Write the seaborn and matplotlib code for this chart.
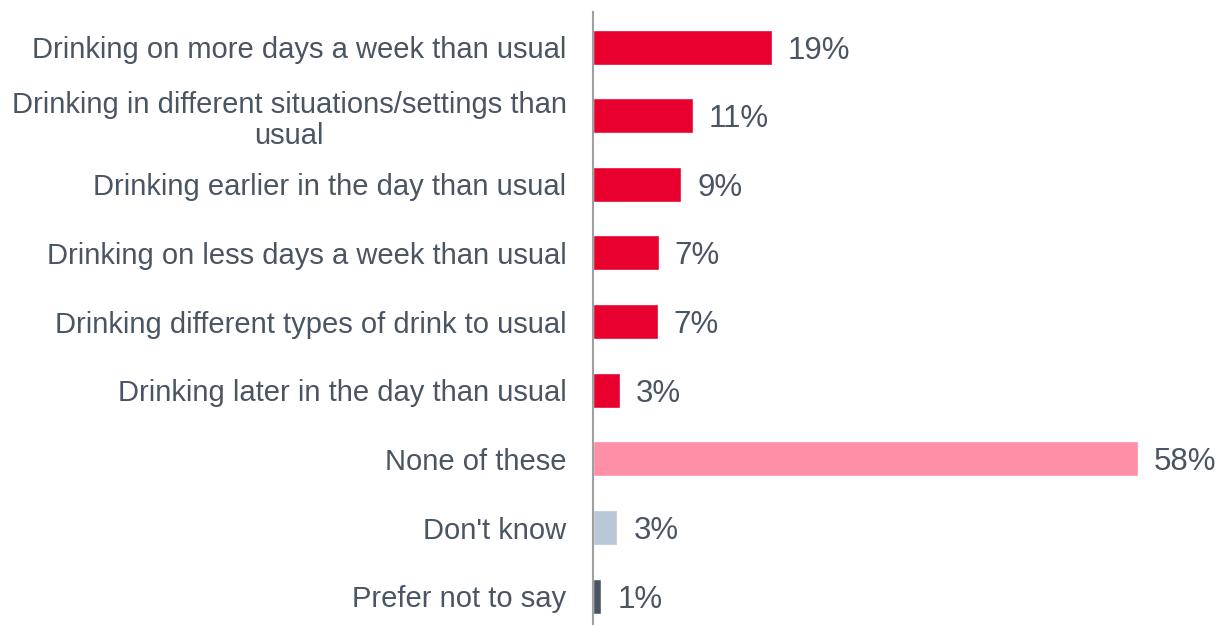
import matplotlib
matplotlib.use("Agg")
import matplotlib.pyplot as plt
import seaborn as sns
import pandas as pd

# Data
categories = [
    "Drinking on more days a week than usual",
    "Drinking in different situations/settings than\nusual",
    "Drinking earlier in the day than usual",
    "Drinking on less days a week than usual",
    "Drinking different types of drink to usual",
    "Drinking later in the day than usual",
    "None of these",
    "Don't know",
    "Prefer not to say",
]
values = [19.0, 10.6, 9.4, 7.0, 6.9, 2.9, 58.0, 2.6, 0.9]
labels = ["19%", "11%", "9%", "7%", "7%", "3%", "58%", "3%", "1%"]
colors = ["#E8002F"] * 6 + ["#FF8FA6", "#B8C8D8", "#4A5563"]

df = pd.DataFrame({"category": categories, "value": values})

sns.set_style("white")
plt.rcParams["font.family"] = ["Liberation Sans", "DejaVu Sans"]
text_color = "#4A5563"

fig = plt.figure(figsize=(12.2, 6.25), dpi=100)
ax = fig.add_axes([593 / 1220, 0.0, 1 - 593 / 1220, 1 - 12 / 625])

sns.barplot(data=df, x="value", y="category", hue="category",
            palette=colors, legend=False, width=0.51, saturation=1, ax=ax)

for i, (v, lab) in enumerate(zip(values, labels)):
    ax.text(v + 1.7, i, lab, va="center_baseline", ha="left",
            fontsize=22.5, color=text_color)

ax.set_xlim(0, 66.7)
ax.set_ylim(8.42, -0.51)
ax.set_xlabel("")
ax.set_ylabel("")
ax.set_xticks([])
for s in ["top", "right", "bottom"]:
    ax.spines[s].set_visible(False)
ax.spines["left"].set_color("#A0A0A0")
ax.spines["left"].set_linewidth(1.5)
ax.tick_params(axis="y", length=0, pad=19, labelsize=21, labelcolor=text_color)
for t in ax.get_yticklabels():
    t.set_multialignment("center")
    t.set_linespacing(1.15)

fig.savefig("out.png", dpi=100)
